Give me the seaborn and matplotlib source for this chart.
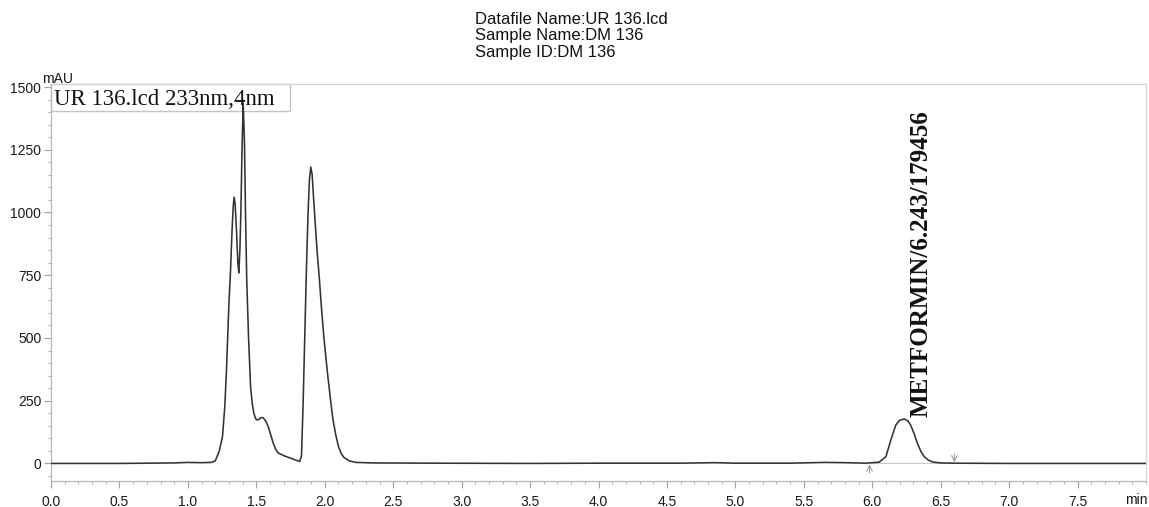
import numpy as np
import pandas as pd
import matplotlib
matplotlib.use("Agg")
import matplotlib.pyplot as plt
from matplotlib.patches import Rectangle
from matplotlib.ticker import MultipleLocator, FixedLocator
import seaborn as sns

# ---------------- data ----------------
time_min = [0.00, 0.50, 0.90, 1.00, 1.10, 1.17, 1.20, 1.23, 1.253, 1.27, 1.282, 1.30,
            1.311, 1.323, 1.332, 1.338, 1.345, 1.355, 1.365, 1.372, 1.380, 1.387,
            1.396, 1.404, 1.410, 1.414, 1.421, 1.430, 1.443, 1.458, 1.470, 1.482,
            1.495, 1.506, 1.520, 1.535, 1.550, 1.570, 1.586, 1.605, 1.623, 1.640,
            1.659, 1.700, 1.745, 1.790, 1.818, 1.830, 1.842, 1.854, 1.866, 1.878,
            1.888, 1.898, 1.908, 1.918, 1.930, 1.945, 1.960, 1.976, 1.993, 2.020,
            2.044, 2.060, 2.080, 2.100, 2.120, 2.140, 2.180, 2.230, 2.350, 2.800,
            3.500, 4.000, 4.600, 4.850, 5.000, 5.400, 5.650, 5.800, 5.950, 6.050,
            6.100, 6.136, 6.172, 6.200, 6.234, 6.260, 6.280, 6.305, 6.330, 6.355,
            6.380, 6.410, 6.440, 6.500, 6.600, 7.000, 8.000]
signal_mau = [0, 0, 2, 4, 3, 4, 10, 50, 108, 230, 372, 639,
              760, 931, 1030, 1061, 1035, 931, 800, 759, 850, 997,
              1262, 1435, 1340, 1262, 997, 732, 506, 307, 240, 200,
              178, 173, 176, 183, 182, 168, 148, 115, 82, 58,
              42, 31, 22, 13, 8, 30, 240, 506, 771, 997,
              1130, 1181, 1150, 1060, 960, 840, 740, 620, 506, 360,
              245, 175, 115, 68, 40, 24, 10, 4, 2, 1,
              0, 1, 1, 3, 1, 1, 4, 3, 1, 5,
              27, 94, 153, 172, 177, 170, 153, 120, 80, 48,
              27, 13, 6, 2, 1, 0, 0]

peak_name = "METFORMIN"
peak_rt = 6.243
peak_area = 179456
peak_height = 177
integration_start = 5.98
integration_end = 6.60

x_ticks = [0.0, 0.5, 1.0, 1.5, 2.0, 2.5, 3.0, 3.5, 4.0, 4.5, 5.0, 5.5, 6.0, 6.5, 7.0, 7.5]
y_ticks = [0, 250, 500, 750, 1000, 1250, 1500]

header_lines = ["Datafile Name:UR 136.lcd", "Sample Name:DM 136", "Sample ID:DM 136"]
trace_label = "UR 136.lcd 233nm,4nm"

# ---------------- style ----------------
sns.set_style("white")
plt.rcParams["font.family"] = ["Liberation Sans", "DejaVu Sans"]

W, H = 1149, 507
fig = plt.figure(figsize=(W / 100, H / 100), dpi=100)
ax_l, ax_r, ax_t, ax_b = 51, 1146, 84, 481
ax = fig.add_axes([ax_l / W, 1 - ax_b / H, (ax_r - ax_l) / W, (ax_b - ax_t) / H])

df = pd.DataFrame({"time": time_min, "mAU": signal_mau})
sns.lineplot(data=df, x="time", y="mAU", ax=ax, color="#333333", linewidth=1.15,
             estimator=None, sort=True, zorder=3)

ax.set_xlim(0, 8.0)
ax.set_ylim(-70, 1512)
ax.set_xlabel("")
ax.set_ylabel("")

ax.xaxis.set_major_locator(FixedLocator(x_ticks))
ax.set_xticklabels([f"{v:.1f}" for v in x_ticks])
ax.xaxis.set_minor_locator(MultipleLocator(0.1))
ax.yaxis.set_major_locator(FixedLocator(y_ticks))
ax.set_yticklabels([str(v) for v in y_ticks])
ax.yaxis.set_minor_locator(MultipleLocator(50))

ax.tick_params(axis="both", which="major", direction="out", length=5, width=0.8,
               color="#a0a0a0", labelsize=10, labelcolor="#1a1a1a")
ax.tick_params(axis="x", which="major", pad=5)
ax.tick_params(axis="y", which="major", pad=2)
ax.tick_params(axis="both", which="minor", direction="out", length=2.5, width=0.7,
               color="#b0b0b0")
ax.tick_params(bottom=True, left=True, which="both")

for side in ["left", "bottom"]:
    ax.spines[side].set_color("#b8b8b8")
    ax.spines[side].set_linewidth(0.9)
for side in ["top", "right"]:
    ax.spines[side].set_color("#d4d4d4")
    ax.spines[side].set_linewidth(0.9)
    ax.spines[side].set_visible(True)

# units
ax.annotate("min", xy=(1.0, 0.0), xycoords="axes fraction", xytext=(1, -8.7),
            textcoords="offset points", ha="right", va="top", fontsize=10, color="#1a1a1a")
fig.text(42 / W, 1 - 79 / H, "mAU", ha="left", va="center", fontsize=10, color="#1a1a1a")

# header
fig.text(475 / W, 1 - 12 / H, "\n".join(header_lines), ha="left", va="top",
         fontsize=12, linespacing=1.11, color="#111111")

# trace label box
box_w = (290 - ax_l) / (ax_r - ax_l)
box_h = (110.7 - ax_t) / (ax_b - ax_t)
ax.add_patch(Rectangle((0, 1 - box_h), box_w, box_h, transform=ax.transAxes,
                       fill=False, edgecolor="#c4c4c4", linewidth=1.0, zorder=2,
                       clip_on=False))
ax.text(0.0025, (ax_b - 105) / (ax_b - ax_t), trace_label, transform=ax.transAxes,
        ha="left", va="baseline", fontsize=16.5, family=["Liberation Serif", "DejaVu Serif"],
        color="#111111", zorder=4)

# peak label
ax.annotate(f"{peak_name}/{peak_rt:.3f}/{peak_area}", xy=(peak_rt, peak_height),
            xytext=(3.0, 1.5), textcoords="offset points", rotation=90,
            ha="left", va="bottom", fontsize=18, fontweight="bold",
            family=["Liberation Serif", "DejaVu Serif"], color="#111111")

# integration markers
ax.plot([integration_start, integration_end], [0, 0], color="#c8c8c8", lw=0.8, zorder=2)
ax.annotate("", xy=(integration_start, -4), xytext=(integration_start, -38),
            arrowprops=dict(arrowstyle="->", color="#a0a0a0", lw=0.8, shrinkA=0, shrinkB=0))
ax.annotate("", xy=(integration_end, 4), xytext=(integration_end, 38),
            arrowprops=dict(arrowstyle="->", color="#a0a0a0", lw=0.8, shrinkA=0, shrinkB=0))

fig.savefig("out.png", dpi=100)
